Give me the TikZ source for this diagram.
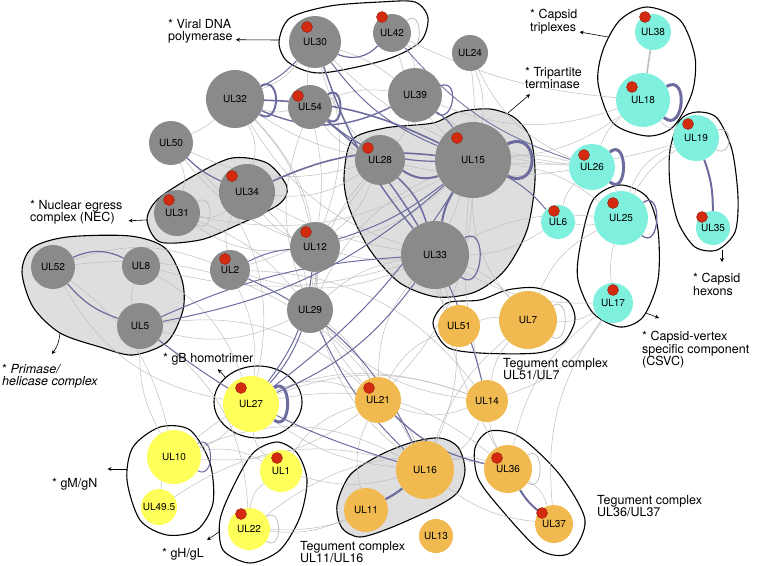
\documentclass[tikz,border=0pt]{standalone}
\usepackage{fontspec}
\setmainfont{TeX Gyre Heros}
\usepackage{tikz}
\usetikzlibrary{positioning, arrows.meta, calc, backgrounds}
\usepackage{xcolor}

\definecolor{nodegray}{RGB}{138,138,138}
\definecolor{nodecyan}{RGB}{128,240,222}
\definecolor{nodeorange}{RGB}{240,186,80}
\definecolor{nodeyellow}{RGB}{255,255,90}
\definecolor{dotred}{RGB}{212,42,16}
\definecolor{blobgray}{RGB}{222,222,222}
\definecolor{linkgray}{RGB}{190,190,190}
\definecolor{linkblue}{RGB}{108,108,158}

\pgfdeclarelayer{blobs}
\pgfdeclarelayer{links}
\pgfsetlayers{blobs,links,main}

\tikzset{
  prot/.style={circle, inner sep=0pt, font=\fontsize{10}{12}\selectfont},
  gprot/.style={prot, fill=nodegray},
  cprot/.style={prot, fill=nodecyan},
  oprot/.style={prot, fill=nodeorange},
  yprot/.style={prot, fill=nodeyellow},
  rdot/.style={circle, inner sep=0pt, minimum size=11pt, fill=dotred, draw=dotred!70!black, line width=0.4pt},
  glink/.style={linkgray, line width=0.5pt},
  plink/.style={linkblue},
  cplx/.style={draw=black, line width=1.1pt},
  cplxgray/.style={cplx, fill=blobgray},
  lbl/.style={anchor=north west, inner sep=0pt, align=left, font=\fontsize{12.5}{12.5}\selectfont},
  lblarrow/.style={-{Stealth[length=4pt,width=4pt]}, line width=0.6pt}
}

\begin{document}
\begin{tikzpicture}[x=1pt, y=-1pt]
\useasboundingbox (0,0) rectangle (760,565);

% gray proteins
\node[gprot, minimum size=52pt] (UL30) at (315,42) {UL30};
\node[gprot, minimum size=38pt] (UL42) at (392,33) {UL42};
\node[gprot, minimum size=36pt] (UL24) at (470,53) {UL24};
\node[gprot, minimum size=58pt] (UL32) at (235,99) {UL32};
\node[gprot, minimum size=44pt] (UL54) at (310,107) {UL54};
\node[gprot, minimum size=54pt] (UL39) at (415,95) {UL39};
\node[gprot, minimum size=44pt] (UL50) at (171,143) {UL50};
\node[gprot, minimum size=50pt] (UL28) at (380,160) {UL28};
\node[gprot, minimum size=76pt] (UL15) at (473,160) {UL15};
\node[gprot, minimum size=56pt] (UL34) at (247,192) {UL34};
\node[gprot, minimum size=46pt] (UL31) at (177,213) {UL31};
\node[gprot, minimum size=50pt] (UL12) at (315,247) {UL12};
\node[gprot, minimum size=40pt] (UL2) at (230,270) {UL2};
\node[gprot, minimum size=68pt] (UL33) at (435,255) {UL33};
\node[gprot, minimum size=46pt] (UL29) at (310,310) {UL29};
\node[gprot, minimum size=44pt] (UL52) at (53,267) {UL52};
\node[gprot, minimum size=38pt] (UL8) at (141,266) {UL8};
\node[gprot, minimum size=46pt] (UL5) at (140,326) {UL5};

% capsid proteins
\node[cprot, minimum size=36pt] (UL38) at (653,32) {UL38};
\node[cprot, minimum size=54pt] (UL18) at (643,100) {UL18};
\node[cprot, minimum size=46pt] (UL19) at (696,138) {UL19};
\node[cprot, minimum size=46pt] (UL26) at (592,167) {UL26};
\node[cprot, minimum size=34pt] (UL6) at (558,222) {UL6};
\node[cprot, minimum size=54pt] (UL25) at (621,218) {UL25};
\node[cprot, minimum size=34pt] (UL35) at (713,228) {UL35};
\node[cprot, minimum size=40pt] (UL17) at (613,303) {UL17};

% tegument proteins
\node[oprot, minimum size=42pt] (UL51) at (459,326) {UL51};
\node[oprot, minimum size=58pt] (UL7) at (528,320) {UL7};
\node[oprot, minimum size=46pt] (UL21) at (378,400) {UL21};
\node[oprot, minimum size=42pt] (UL14) at (487,401) {UL14};
\node[oprot, minimum size=58pt] (UL16) at (425,470) {UL16};
\node[oprot, minimum size=44pt] (UL11) at (366,510) {UL11};
\node[oprot, minimum size=34pt] (UL13) at (436,536) {UL13};
\node[oprot, minimum size=48pt] (UL36) at (508,469) {UL36};
\node[oprot, minimum size=38pt] (UL37) at (554,524) {UL37};

% glycoproteins
\node[yprot, minimum size=56pt] (UL27) at (251,404) {UL27};
\node[yprot, minimum size=54pt] (UL10) at (174,457) {UL10};
\node[yprot, minimum size=36pt] (UL49h) at (159,507) {UL49.5};
\node[yprot, minimum size=42pt] (UL1) at (281,471) {UL1};
\node[yprot, minimum size=42pt] (UL22) at (249,529) {UL22};

% essential proteins
\foreach \n/\dx/\dy in {UL30/-8/-15, UL42/-10/-16, UL54/-12/-11, UL28/-12/-12,
    UL15/-16/-22, UL34/-15/-16, UL31/-8/-13, UL12/-9/-15, UL2/-5/-11,
    UL38/-8/-15, UL18/-11/-13, UL19/-8/-14, UL26/-8/-12, UL6/-4/-11,
    UL25/-8/-15, UL35/-11/-11, UL17/0/-13, UL27/-10/-16, UL21/-9/-12,
    UL1/-4/-13, UL22/-8/-15, UL36/-11/-11, UL37/-12/-11}
  \node[rdot] (\n-ess) at ($(\n)+(\dx,\dy)$) {};

% interactions
\begin{pgfonlayer}{links}
\foreach \a/\b/\c in {UL30/UL32/15, UL30/UL54/-10, UL30/UL39/10, UL30/UL28/-15, UL30/UL12/20,
    UL42/UL15/-15, UL42/UL39/20, UL42/UL18/-10, UL24/UL15/15, UL24/UL26/-20,
    UL32/UL54/-15, UL32/UL50/10, UL32/UL34/20, UL32/UL28/-10, UL32/UL12/15,
    UL32/UL33/-20, UL32/UL29/25, UL54/UL39/15, UL54/UL28/-15, UL54/UL12/10,
    UL54/UL29/-20, UL39/UL28/15, UL39/UL26/-15, UL39/UL18/-20,
    UL50/UL31/20, UL50/UL12/-15, UL50/UL28/-20, UL28/UL34/20, UL28/UL12/15,
    UL28/UL29/-15, UL28/UL2/20, UL28/UL26/-10, UL15/UL26/10, UL15/UL18/-15,
    UL15/UL19/-10, UL15/UL25/15, UL15/UL7/-20, UL15/UL12/15, UL15/UL29/-20,
    UL15/UL21/20, UL15/UL14/-10, UL15/UL31/20, UL33/UL12/10, UL33/UL29/-15,
    UL33/UL2/20, UL33/UL51/-15, UL33/UL7/15, UL33/UL21/-20, UL33/UL16/20,
    UL33/UL36/-10, UL33/UL25/15, UL33/UL17/-15, UL34/UL31/25, UL34/UL12/-15,
    UL34/UL33/-10, UL34/UL29/20, UL34/UL2/-20, UL31/UL12/-20, UL31/UL29/15,
    UL12/UL29/10, UL12/UL21/-20, UL29/UL21/15, UL29/UL14/-20, UL29/UL5/20,
    UL2/UL27/15, UL2/UL52/-20, UL52/UL10/20, UL52/UL27/-25, UL8/UL5/-20,
    UL8/UL27/20, UL5/UL10/-15, UL5/UL22/25, UL27/UL10/15, UL27/UL1/-20,
    UL27/UL21/25, UL27/UL14/20, UL27/UL16/-15, UL27/UL36/25, UL10/UL1/20,
    UL10/UL21/-20, UL10/UL16/25, UL1/UL16/-15, UL1/UL21/20, UL22/UL36/25,
    UL22/UL11/-15, UL21/UL14/-20, UL21/UL16/15, UL21/UL11/-20, UL14/UL16/20,
    UL14/UL36/-10, UL14/UL7/15, UL51/UL7/10, UL51/UL21/-20, UL7/UL16/-15,
    UL7/UL25/20, UL7/UL17/-15, UL16/UL36/20, UL16/UL37/-15, UL36/UL17/20,
    UL26/UL6/-15, UL26/UL25/20, UL26/UL18/15, UL6/UL25/-10, UL6/UL33/15,
    UL25/UL17/-10, UL25/UL19/15, UL18/UL19/-15, UL19/UL25/-25, UL17/UL14/20,
    UL10/UL49h/-10, UL1/UL22/-25, UL36/UL37/20, UL12/UL16/-25, UL2/UL14/25,
    UL50/UL27/30, UL52/UL16/35, UL5/UL21/25, UL30/UL26/-20, UL24/UL33/15,
    UL10/UL14/30, UL49h/UL16/25, UL22/UL16/-20, UL17/UL37/-20, UL8/UL33/-15}
  \draw[glink] (\a) to[bend left=\c] (\b);
\draw[linkgray, line width=1.6pt] (UL38) -- (UL18);

\foreach \a/\b/\c/\w in {UL30/UL42/-35/1.2, UL30/UL32/10/1, UL30/UL33/-10/1.4,
    UL30/UL15/-15/1, UL32/UL39/-25/1.4, UL32/UL15/12/1.6, UL54/UL15/-20/1.2,
    UL54/UL33/10/1.4, UL39/UL15/10/1, UL50/UL34/-10/1.2, UL34/UL15/15/1.6,
    UL28/UL15/-25/2, UL28/UL33/15/1.5, UL15/UL33/-10/2, UL15/UL6/10/1,
    UL15/UL27/10/1, UL12/UL2/-10/1, UL12/UL15/-10/1, UL29/UL27/10/1,
    UL12/UL27/15/1, UL52/UL8/25/1.2, UL52/UL5/-15/1.2, UL5/UL15/-15/1,
    UL5/UL33/10/1, UL2/UL16/20/1, UL5/UL16/-10/1, UL21/UL36/-15/1.2,
    UL16/UL11/5/2.2, UL36/UL37/-10/2, UL14/UL33/-5/1, UL19/UL35/10/2,
    UL29/UL16/-10/1, UL27/UL33/-15/1, UL42/UL26/-15/0.8}
  \draw[plink, line width=\w pt] (\a) to[bend left=\c] (\b);

% self interactions
\foreach \n/\p/\q/\s/\w in {UL32/27/-32/24/2, UL54/35/-35/20/2, UL39/20/-40/22/1.2,
    UL15/25/-25/36/3, UL26/40/-40/24/3, UL18/30/-40/26/3, UL25/35/-40/24/1.3,
    UL33/30/-40/28/1.2, UL27/35/-35/22/3, UL10/30/-30/20/1}
  \draw[plink, line width=\w pt] (\n.\p) .. controls +(\p:\s pt) and +(\q:\s pt) .. (\n.\q);
\foreach \n/\p/\q/\s in {UL42/40/-40/22, UL19/20/-30/18, UL36/35/-35/20,
    UL7/30/-35/20, UL22/35/-35/20, UL31/30/-30/20}
  \draw[glink, line width=0.8pt] (\n.\p) .. controls +(\p:\s pt) and +(\q:\s pt) .. (\n.\q);
\end{pgfonlayer}

% complexes
\begin{pgfonlayer}{blobs}
\draw[cplx] plot[smooth cycle] coordinates {(279,42) (290,18) (330,6) (380,2) (415,2) (428,18) (420,42) (385,60) (320,73) (288,62)};
\draw[cplxgray] plot[smooth cycle] coordinates {(344,178) (352,140) (385,128) (433,123) (458,112) (490,109) (515,118) (531,140) (535,180) (527,230) (505,270) (475,292) (437,297) (400,283) (370,250) (350,210)};
\draw[cplxgray] plot[smooth cycle] coordinates {(147,220) (158,199) (195,175) (232,158) (267,163) (287,187) (278,205) (233,227) (200,240) (160,242)};
\draw[cplxgray] plot[smooth cycle] coordinates {(22,272) (32,248) (67,237) (130,236) (165,248) (182,280) (183,310) (167,342) (133,355) (100,347) (60,333) (33,307)};
\draw[cplx] plot[smooth cycle] coordinates {(647,7) (680,20) (695,57) (692,93) (673,127) (647,136) (613,123) (598,83) (603,50) (620,20)};
\draw[cplx] plot[smooth cycle] coordinates {(670,150) (680,120) (697,112) (717,118) (732,150) (738,197) (735,232) (717,250) (695,247) (678,222) (670,185)};
\draw[cplx] plot[smooth cycle] coordinates {(620,185) (647,197) (658,230) (658,280) (643,317) (620,327) (593,313) (578,280) (580,247) (593,200)};
\draw[cplx] plot[smooth cycle] coordinates {(433,323) (447,303) (480,300) (507,290) (537,288) (567,300) (575,320) (563,343) (537,353) (480,353) (447,347)};
\draw[cplx] (258,402) ellipse [x radius=44, y radius=36];
\draw[cplx] plot[smooth cycle] coordinates {(127,480) (133,447) (160,427) (190,430) (210,463) (213,503) (197,530) (167,535) (140,520)};
\draw[cplx] plot[smooth cycle] coordinates {(277,442) (297,453) (307,480) (300,517) (280,550) (250,563) (223,550) (220,520) (233,487) (253,453)};
\draw[cplxgray] plot[smooth cycle] coordinates {(337,505) (350,475) (380,455) (413,442) (440,438) (458,447) (465,470) (457,493) (430,510) (390,528) (360,537) (342,528)};
\draw[cplx] plot[smooth cycle] coordinates {(475,448) (490,431) (520,437) (560,475) (585,520) (570,553) (540,550) (500,508) (478,478)};
\end{pgfonlayer}

% complex labels
\node[lbl] (polLbl) at (168,19) {* Viral DNA\\polymerase};
\node[lbl] (tripLbl) at (530,9) {* Capsid\\triplexes};
\node[lbl] (termLbl) at (525,67) {* Tripartite\\terminase};
\node[lbl] (necLbl) at (30,200) {* Nuclear egress\\complex (NEC)};
\node[lbl] (primLbl) at (2,364) {* \textit{Primase/}\\\textit{helicase complex}};
\node[lbl] (gbLbl) at (163,353) {* gB homotrimer};
\node[lbl] (gmLbl) at (52,478) {* gM/gN};
\node[lbl] (ghLbl) at (162,548) {* gH/gL};
\node[lbl] (teg1Lbl) at (300,541) {Tegument complex\\UL11/UL16};
\node[lbl] (teg2Lbl) at (503,358) {Tegument complex\\UL51/UL7};
\node[lbl] (teg3Lbl) at (597,495) {Tegument complex\\UL36/UL37};
\node[lbl] (csvcLbl) at (642,331) {* Capsid-vertex\\specific component\\(CSVC)};
\node[lbl] (hexLbl) at (693,273) {* Capsid\\hexons};

% pointers
\coordinate (polOut) at (279,40);
\coordinate (tripOut) at (608,37);
\coordinate (termOut) at (508,113);
\coordinate (necOut) at (147,220);
\coordinate (primOut) at (60,333);
\coordinate (gbOut) at (226,378);
\coordinate (gmOut) at (127,469);
\coordinate (ghOut) at (219,532);
\coordinate (csvcOut) at (646,313);
\coordinate (hexOut) at (722,250);
\draw[lblarrow] (polOut) -- ($(polLbl.south east)+(3,-4)$);
\draw[lblarrow] (tripOut) -- ($(tripLbl.south east)+(2,-2)$);
\draw[lblarrow] (termOut) -- ($(termLbl.south west)+(5,5)$);
\draw[lblarrow] (necOut) -- ($(necLbl.south east)+(6,-4)$);
\draw[lblarrow] (primOut) to[bend left=15] ($(primLbl.north west)+(50,-10)$);
\draw[lblarrow] (gbOut) -- ($(gbLbl.south west)+(55,4)$);
\draw[lblarrow] (gmOut) -- ($(gmLbl.north east)+(10,-9)$);
\draw[lblarrow] (ghOut) -- ($(ghLbl.north east)+(3,-8)$);
\draw[lblarrow] (csvcOut) -- ($(csvcLbl.north west)+(17,-13)$);
\draw[lblarrow] (hexOut) -- ($(hexLbl.north west)+(29,-11)$);

\end{tikzpicture}
\end{document}
